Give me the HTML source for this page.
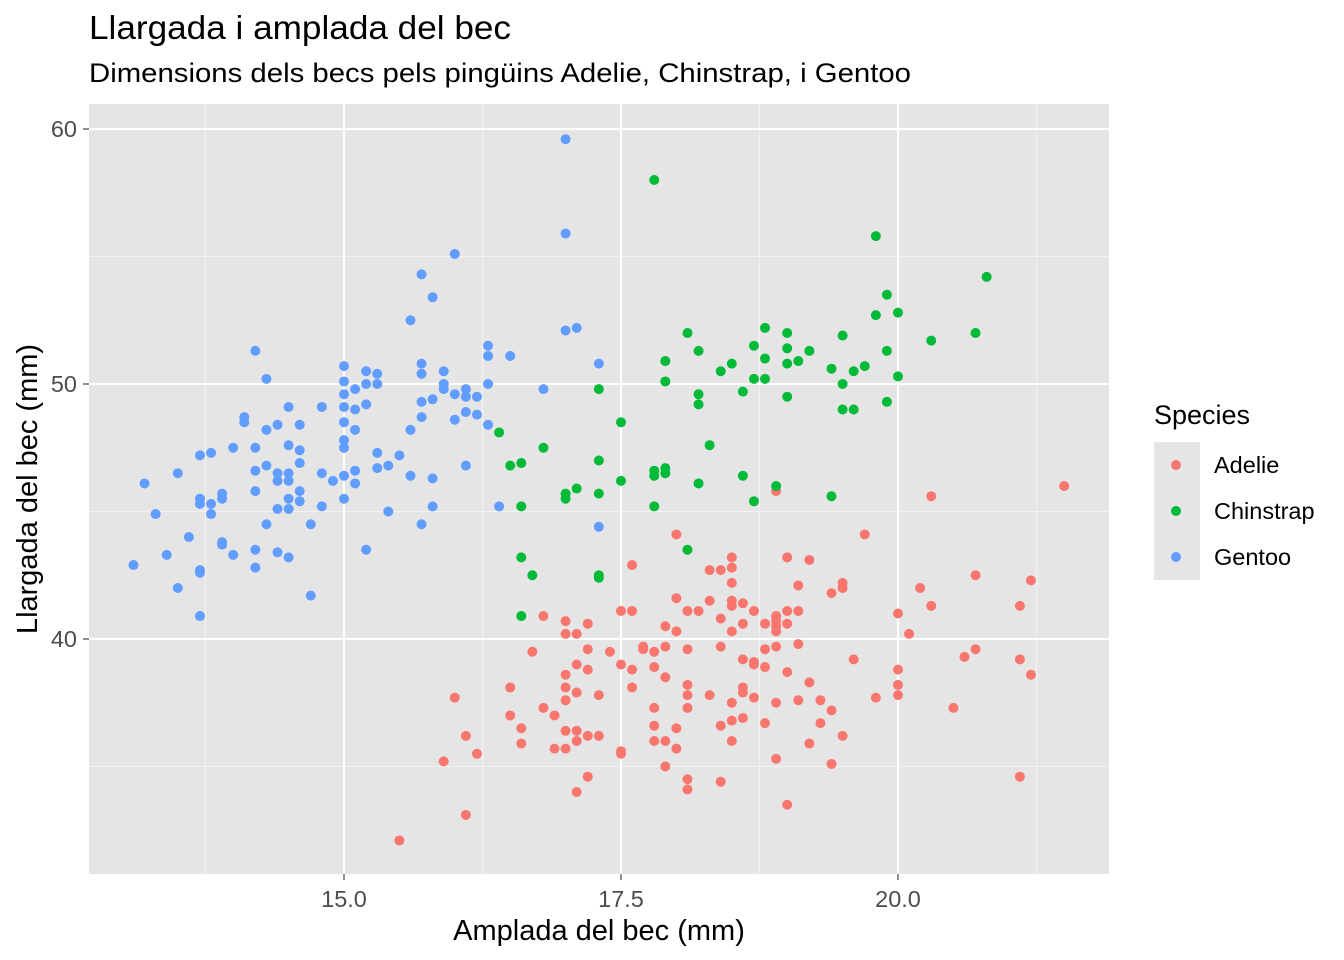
<!DOCTYPE html>
<html><head><meta charset="utf-8"><style>
html,body{margin:0;padding:0;background:#fff;}
svg{display:block;font-family:"Liberation Sans",Arial,sans-serif;}
</style></head><body>
<svg id="chart" width="1344" height="960" viewBox="0 0 1344 960">
<text x="89" y="39" font-size="33" textLength="422" lengthAdjust="spacingAndGlyphs" fill="#000">Llargada i amplada del bec</text>
<text x="89" y="82" font-size="26.5" textLength="822" lengthAdjust="spacingAndGlyphs" fill="#000">Dimensions dels becs pels pingüins Adelie, Chinstrap, i Gentoo</text>
<rect x="89" y="104" width="1020" height="770" fill="#e5e5e5"/>
<g id="grid"></g>
<g id="points"></g>
<g id="axes"></g>
<text x="599" y="940" font-size="29" text-anchor="middle" fill="#000">Amplada del bec (mm)</text>
<text transform="translate(37,489) rotate(-90)" font-size="29" text-anchor="middle" fill="#000">Llargada del bec (mm)</text>
<g>
<text x="1154" y="424" font-size="27" fill="#000">Species</text>
<rect x="1154" y="442" width="46" height="138" fill="#e5e5e5"/>
<g id="legend-entries"></g>
</g>
</svg>
<script>
const species = ["Adelie","Chinstrap","Gentoo"];
const colors = ["#F8766D","#00BA38","#619CFF"];
const xTicks = [15.0,17.5,20.0];
const xTickLabels = ["15.0","17.5","20.0"];
const yTicks = [40,50,60];
const yTickLabels = ["40","50","60"];
const xMinor = [13.75,16.25,18.75,21.25];
const yMinor = [35,45,55];

const gentooDepth = [13.1,13.2,13.3,13.4,13.5,13.5,13.6,13.7,13.7,13.7,13.7,13.7,13.7,13.8,13.8,13.8,13.9,13.9,13.9,13.9,14.0,14.0,14.1,14.1,14.2,14.2,14.2,14.2,14.2,14.2,14.3,14.3,14.3,14.3,14.4,14.4,14.4,14.4,14.4,14.5,14.5,14.5,14.5,14.5,14.5,14.5,14.6,14.6,14.6,14.6,14.6,14.7,14.7,14.8,14.8,14.8,14.9,15.0,15.0,15.0,15.0,15.0,15.0,15.0,15.0,15.0,15.1,15.1,15.1,15.1,15.1,15.2,15.2,15.2,15.2,15.3,15.3,15.3,15.3,15.4,15.4,15.5,15.6,15.6,15.6,15.7,15.7,15.7,15.7,15.7,15.7,15.8,15.8,15.8,15.8,15.9,15.9,15.9,16.0,16.0,16.0,16.1,16.1,16.1,16.1,16.2,16.2,16.3,16.3,16.3,16.3,16.4,16.5,16.8,17.0,17.0,17.0,17.1,17.3,17.3];
const gentooLength = [42.9,46.1,44.9,43.3,46.5,42.0,44.0,47.2,45.5,45.3,42.7,42.6,40.9,47.3,45.3,44.9,45.7,45.5,43.8,43.7,47.5,43.3,48.7,48.5,51.3,47.5,46.6,45.8,43.5,42.8,50.2,48.2,46.8,44.5,48.4,46.5,46.2,45.1,43.4,49.1,47.6,46.5,46.2,45.5,45.1,43.2,48.4,47.4,46.9,45.8,45.4,44.5,41.7,49.1,46.5,45.2,46.2,50.7,50.1,49.6,49.1,48.5,47.8,47.5,46.4,45.5,49.8,49.0,48.2,46.1,46.6,50.5,50.0,49.2,43.5,50.4,50.0,47.3,46.7,46.8,45.0,47.2,52.5,48.2,46.4,54.3,50.8,50.4,49.3,48.7,44.5,53.4,49.4,46.3,45.2,50.5,50.0,49.8,55.1,49.6,48.6,49.8,49.5,48.9,46.8,49.5,48.8,51.5,51.1,50.0,48.4,45.2,51.1,49.8,59.6,55.9,52.1,52.2,50.8,44.4];

const chinDepth = [16.4,16.5,16.6,16.6,16.6,16.6,16.7,16.8,17.0,17.0,17.1,17.3,17.3,17.3,17.3,17.3,17.5,17.5,17.8,17.8,17.8,17.8,17.9,17.9,17.9,17.9,18.1,18.1,18.2,18.2,18.2,18.2,18.3,18.4,18.5,18.6,18.6,18.7,18.7,18.7,18.8,18.8,18.8,18.9,19.0,19.0,19.0,19.0,19.1,19.2,19.4,19.4,19.5,19.5,19.5,19.6,19.6,19.7,19.8,19.8,19.9,19.9,19.9,20.0,20.0,20.3,20.7,20.8];
const chinLength = [48.1,46.8,46.9,45.2,43.2,40.9,42.5,47.5,45.7,45.5,45.9,49.8,47.0,45.7,42.5,42.4,48.5,46.2,58.0,46.6,46.4,45.2,50.9,50.1,46.7,46.5,52.0,43.5,51.3,49.6,49.2,46.1,47.6,50.5,50.8,49.7,46.4,51.5,50.2,45.4,52.2,51.0,50.2,46.0,52.0,51.4,50.8,49.5,50.9,51.3,50.6,45.6,51.9,50.0,49.0,50.5,49.0,50.7,55.8,52.7,53.5,51.3,49.3,52.8,50.3,51.7,52.0,54.2];

const adelieDepth = [15.5,15.9,16.0,16.1,16.1,16.2,16.5,16.5,16.6,16.6,16.7,16.8,16.8,16.9,16.9,17.0,17.0,17.0,17.0,17.0,17.0,17.0,17.1,17.1,17.1,17.1,17.1,17.1,17.2,17.2,17.2,17.2,17.2,17.3,17.3,17.4,17.5,17.5,17.5,17.5,17.6,17.6,17.6,17.6,17.7,17.7,17.8,17.8,17.8,17.8,17.8,17.9,17.9,17.9,17.9,17.9,18.0,18.0,18.0,18.0,18.0,18.1,18.1,18.1,18.1,18.1,18.1,18.1,18.2,18.3,18.3,18.3,18.4,18.4,18.4,18.4,18.4,18.5,18.5,18.5,18.5,18.5,18.5,18.5,18.5,18.5,18.6,18.6,18.6,18.6,18.6,18.6,18.7,18.7,18.7,18.7,18.8,18.8,18.8,18.8,18.9,18.9,18.9,18.9,18.9,18.9,18.9,18.9,19.0,19.0,19.0,19.0,19.0,19.1,19.1,19.1,19.1,19.2,19.2,19.2,19.3,19.3,19.4,19.4,19.4,19.5,19.5,19.5,19.6,19.7,19.8,20.0,20.0,20.0,20.0,20.1,20.2,20.3,20.3,20.5,20.6,20.7,20.7,21.1,21.1,21.1,21.2,21.2,21.5];
const adelieLength = [32.1,35.2,37.7,36.2,33.1,35.5,38.1,37.0,36.5,35.9,39.5,40.9,37.3,37.0,35.7,40.7,40.2,38.6,38.1,37.6,36.4,35.7,40.2,39.0,37.9,36.4,36.0,34.0,40.6,39.6,38.8,36.2,34.6,37.8,36.2,39.5,41.1,39.0,35.6,35.5,42.9,41.1,38.8,38.1,39.7,39.6,39.5,38.9,37.3,36.6,36.0,40.5,39.7,38.5,36.0,35.0,44.1,41.6,40.3,36.5,35.7,41.1,39.6,38.2,37.8,37.3,34.5,34.1,41.1,42.7,41.5,37.8,42.7,40.8,39.7,36.6,34.4,43.2,42.8,42.2,41.5,41.3,40.3,37.5,36.8,36.0,41.4,40.6,39.2,38.1,37.9,36.9,41.1,39.1,39.0,37.7,40.6,39.6,38.9,36.7,45.8,40.9,40.7,40.5,40.3,39.7,37.5,35.3,43.2,41.1,40.6,38.7,33.5,42.1,41.1,39.8,37.6,43.1,38.3,35.9,37.6,36.7,41.8,37.2,35.1,42.2,42.0,36.2,39.2,44.1,37.7,41.0,38.8,38.2,37.8,40.2,42.0,45.6,41.3,37.3,39.3,42.5,39.6,41.3,39.2,34.6,42.3,38.6,46.0];

const NS = "http://www.w3.org/2000/svg";
const X0 = 89, X1 = 1109, Y0 = 104, Y1 = 874;
function xScale(v){ return 344 + (v - 15) * 110.8; }
function yScale(v){ return 384 - (v - 50) * 25.5; }
function mk(tag, attrs, parent){
  const el = document.createElementNS(NS, tag);
  for (const k in attrs) el.setAttribute(k, attrs[k]);
  parent.appendChild(el);
  return el;
}
const grid = document.getElementById('grid');
xMinor.forEach(v => {
  const l = mk('line', {x1:xScale(v), x2:xScale(v), y1:Y0, y2:Y1, stroke:'#f2f2f2', 'stroke-width':1.1}, grid);
  
  
});
yMinor.forEach(v => {
  const l = mk('line', {x1:X0, x2:X1, y1:yScale(v), y2:yScale(v), stroke:'#f2f2f2', 'stroke-width':1.1}, grid);
  
  
});
xTicks.forEach(v => {
  const l = mk('line', {x1:xScale(v), x2:xScale(v), y1:Y0, y2:Y1, stroke:'#fff', 'stroke-width':2.1}, grid);
  
  
});
yTicks.forEach(v => {
  const l = mk('line', {x1:X0, x2:X1, y1:yScale(v), y2:yScale(v), stroke:'#fff', 'stroke-width':2.1}, grid);
  
  
});
const axes = document.getElementById('axes');
xTicks.forEach((v, i) => {
  const t = mk('line', {x1:xScale(v), x2:xScale(v), y1:Y1, y2:Y1+6, stroke:'#333', 'stroke-width':1.1}, axes);
  
  
  const tx = mk('text', {x:xScale(v), y:Y1+33, 'font-size':23.5, 'text-anchor':'middle', fill:'#4d4d4d'}, axes);
  tx.textContent = xTickLabels[i];
  
  
});
yTicks.forEach((v, i) => {
  const t = mk('line', {x1:X0-6, x2:X0, y1:yScale(v), y2:yScale(v), stroke:'#333', 'stroke-width':1.1}, axes);
  
  
  const tx = mk('text', {x:X0-12, y:yScale(v)+8, 'font-size':23.5, 'text-anchor':'end', fill:'#4d4d4d'}, axes);
  tx.textContent = yTickLabels[i];
  
  
});
const pts = document.getElementById('points');
const series = [[adelieDepth, adelieLength], [chinDepth, chinLength], [gentooDepth, gentooLength]];
series.forEach((s, si) => {
  s[0].forEach((d, i) => {
    const c = mk('circle', {cx:xScale(d), cy:yScale(s[1][i]), r:5, fill:colors[si]}, pts);
    
    
  });
});
const leg = document.getElementById('legend-entries');
species.forEach((sp, i) => {
  const cy = 465 + i * 46;
  const c = mk('circle', {cx:1176, cy:cy, r:5, fill:colors[i]}, leg);
  
  
  const t = mk('text', {x:1214, y:cy+8, 'font-size':23.5, fill:'#000'}, leg);
  t.textContent = sp;
  
  
});
</script>
</body></html>
